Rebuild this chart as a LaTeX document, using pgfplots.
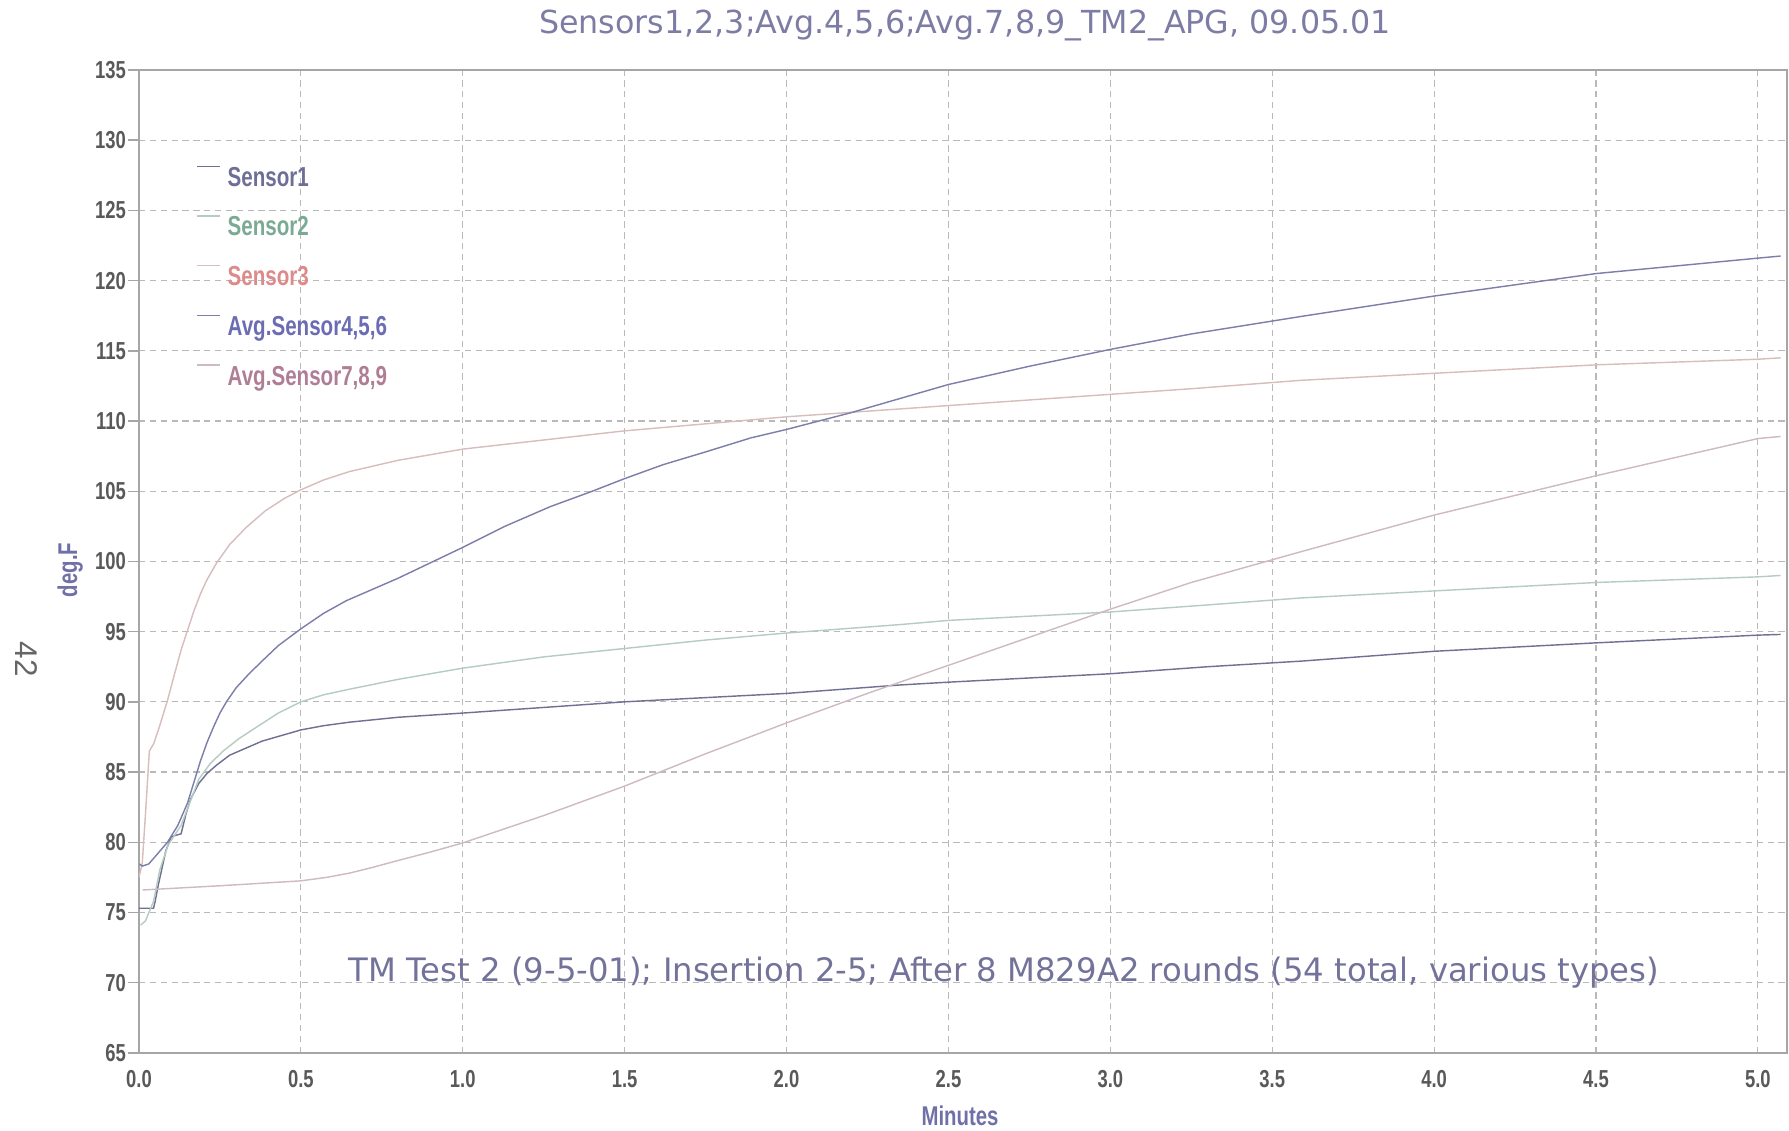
\documentclass[border=0pt]{standalone}
\usepackage{fontspec}
\setmainfont{Liberation Sans}
\newfontfamily\nb[FakeStretch=0.75]{Liberation Sans}
\newfontfamily\djfont{DejaVu Sans}
\usepackage{pgfplots}
\pgfplotsset{compat=1.18}
\definecolor{s1t}{HTML}{6E6E96}
\definecolor{s2t}{HTML}{7AAA94}
\definecolor{s3t}{HTML}{DC8A8A}
\definecolor{s4t}{HTML}{6C6CB4}
\definecolor{s5t}{HTML}{B07E94}
\definecolor{s1l}{HTML}{707092}
\definecolor{s2l}{HTML}{B5CCC2}
\definecolor{s3l}{HTML}{D8BDBD}
\definecolor{s4l}{HTML}{7E7EAA}
\definecolor{s5l}{HTML}{CFB9C3}
\definecolor{titlec}{HTML}{7C7CA4}
\definecolor{annc}{HTML}{72729A}
\definecolor{labc}{HTML}{7070A8}
\begin{document}
\begin{tikzpicture}
\useasboundingbox (-48.65pt,-27.3pt) rectangle (577.5pt,368.5pt);
\begin{axis}[
  at={(0pt,0pt)}, anchor=south west,
  scale only axis, width=576.8pt, height=344pt,
  xmin=0, xmax=5.09, ymin=65, ymax=135,
  xtick={0,0.5,1,1.5,2,2.5,3,3.5,4,4.5,5},
  ytick={65,70,75,80,85,90,95,100,105,110,115,120,125,130,135},
  xtick pos=bottom, ytick pos=left,
  tick align=outside, major tick length=3.85pt,
  xtick style={draw=none},
  ytick style={gray!70, line width=0.5pt},
  axis line style={gray!70, line width=0.5pt},
  grid=major,
  major grid style={dash pattern=on 2.2pt off 1.6pt, gray!55, line width=0.4pt},
  /pgf/number format/assume math mode=true,
  ticklabel style={font=\nb\bfseries\fontsize{8.6}{10}\selectfont, text=black!65},
  yticklabel style={xshift=2.8pt},
  xticklabel style={yshift=1.2pt, /pgf/number format/.cd, fixed, fixed zerofill, precision=1},
  legend cell align=left,
  legend image code/.code={\draw[#1] (0pt,4.5pt) -- (8pt,4.5pt);},
  legend style={at={(0,1)}, anchor=north west, xshift=19.95pt, yshift=-33.25pt,
    draw=none, fill=none, inner sep=0pt, row sep=8.15pt,
    font=\nb\bfseries\fontsize{9.6}{11}\selectfont,
    nodes={inner sep=0pt, text height=7pt, text depth=2pt},
    /tikz/every odd column/.append style={column sep=2.4pt}},
]
% Sensor1
\addplot[color=s1l, line width=0.5pt] coordinates {
(0.0,75.3) (0.045,75.3) (0.05,75.8) (0.06,77.0) (0.083,79.4) (0.1,80.4) (0.13,80.6)
(0.145,82.0) (0.16,83.1) (0.185,84.2) (0.21,84.9) (0.24,85.5) (0.28,86.2) (0.33,86.7)
(0.38,87.2) (0.44,87.6) (0.5,88.0) (0.57,88.3)
(0.65,88.55) (0.8,88.9) (1.0,89.2) (1.25,89.6) (1.5,90.0) (1.75,90.3) (2.0,90.6)
(2.35,91.2) (2.5,91.4) (2.75,91.7) (3.0,92.0) (3.3,92.5) (3.59,92.9) (4.0,93.6)
(4.5,94.2) (5.0,94.75) (5.07,94.8)};
\addlegendentry{\textcolor{s1t}{Sensor1}}
% Sensor2
\addplot[color=s2l, line width=0.5pt] coordinates {
(0.005,74.1) (0.02,74.4) (0.045,75.8) (0.065,78.1) (0.09,79.8) (0.13,81.2) (0.16,83.0)
(0.185,84.5) (0.22,85.6) (0.26,86.5) (0.31,87.4) (0.37,88.3) (0.43,89.2) (0.5,90.0)
(0.57,90.5) (0.65,90.9) (0.8,91.6)
(1.0,92.4) (1.25,93.2) (1.5,93.8) (1.75,94.4) (2.0,94.9) (2.35,95.5) (2.5,95.8)
(2.75,96.1) (3.0,96.4) (3.3,96.9) (3.59,97.4) (4.0,97.9) (4.5,98.5) (5.0,98.9) (5.07,99.0)};
\addlegendentry{\textcolor{s2t}{Sensor2}}
% Sensor3
\addplot[color=s3l, line width=0.5pt] coordinates {
(0.0,77.5) (0.01,78.5) (0.02,82.0) (0.032,86.5) (0.045,87.0) (0.06,88.0) (0.088,90.1)
(0.11,92.0) (0.13,93.7) (0.15,95.1) (0.17,96.5) (0.19,97.7) (0.21,98.7) (0.24,99.9)
(0.28,101.2) (0.33,102.4) (0.39,103.6) (0.45,104.5) (0.5,105.1) (0.57,105.8)
(0.65,106.4) (0.8,107.2) (1.0,108.0) (1.27,108.7) (1.5,109.3) (1.75,109.8) (2.0,110.3)
(2.25,110.7) (2.5,111.1) (2.75,111.5) (3.0,111.9) (3.25,112.3) (3.59,112.9) (4.0,113.4)
(4.5,114.0) (5.0,114.4) (5.07,114.5)};
\addlegendentry{\textcolor{s3t}{Sensor3}}
% Avg 4,5,6
\addplot[color=s4l, line width=0.5pt] coordinates {
(0.002,78.45) (0.01,78.3) (0.03,78.45) (0.047,78.9) (0.088,80.0) (0.12,81.2) (0.15,82.8)
(0.17,84.3) (0.19,85.8) (0.21,87.1) (0.23,88.2) (0.25,89.2) (0.27,90.0) (0.30,91.0)
(0.34,92.0) (0.38,92.9) (0.43,94.0) (0.5,95.2) (0.57,96.3) (0.64,97.2) (0.72,98.0)
(0.8,98.8) (0.9,99.9) (1.0,101.0) (1.13,102.5) (1.27,103.9) (1.4,105.0) (1.5,105.9)
(1.62,106.9) (1.75,107.8) (1.89,108.8) (2.0,109.4) (2.1,110.0) (2.2,110.6) (2.35,111.6)
(2.5,112.6) (2.75,113.9) (3.0,115.1) (3.25,116.2) (3.59,117.45) (4.0,118.9)
(4.5,120.5) (5.0,121.6) (5.07,121.75)};
\addlegendentry{\textcolor{s4t}{Avg.Sensor4,5,6}}
% Avg 7,8,9
\addplot[color=s5l, line width=0.5pt] coordinates {
(0.011,76.6) (0.25,76.9) (0.5,77.25) (0.58,77.5) (0.65,77.8) (0.72,78.2) (0.8,78.7)
(0.9,79.3) (1.0,79.95)
(1.25,81.9) (1.5,84.0) (1.75,86.3) (2.0,88.5) (2.25,90.6) (2.5,92.6) (2.8,95.0)
(3.0,96.6) (3.25,98.5) (3.59,100.7) (4.0,103.3) (4.5,106.1) (5.0,108.75) (5.07,108.9)};
\addlegendentry{\textcolor{s5t}{Avg.Sensor7,8,9}}
\end{axis}
\node[font=\djfont\fontsize{11.1}{13}\selectfont, text=titlec] at (289.1pt,359.7pt)
  {Sensors1,2,3;Avg.4,5,6;Avg.7,8,9\_TM2\_APG, 09.05.01};
\node[font=\djfont\fontsize{11.3}{13}\selectfont, text=annc] at (302.75pt,28pt)
  {TM Test 2 (9-5-01); Insertion 2-5; After 8 M829A2 rounds (54 total, various types)};
\node[font=\nb\bfseries\fontsize{9.5}{11}\selectfont, text=labc] at (287.35pt,-22.05pt) {Minutes};
\node[font=\nb\bfseries\fontsize{9.5}{11}\selectfont, text=labc, rotate=90] at (-24.05pt,169pt) {deg.F};
\node[font=\fontsize{11}{13}\selectfont, text=black!60, rotate=-90] at (-39.5pt,137.7pt) {42};
\end{tikzpicture}
\end{document}
